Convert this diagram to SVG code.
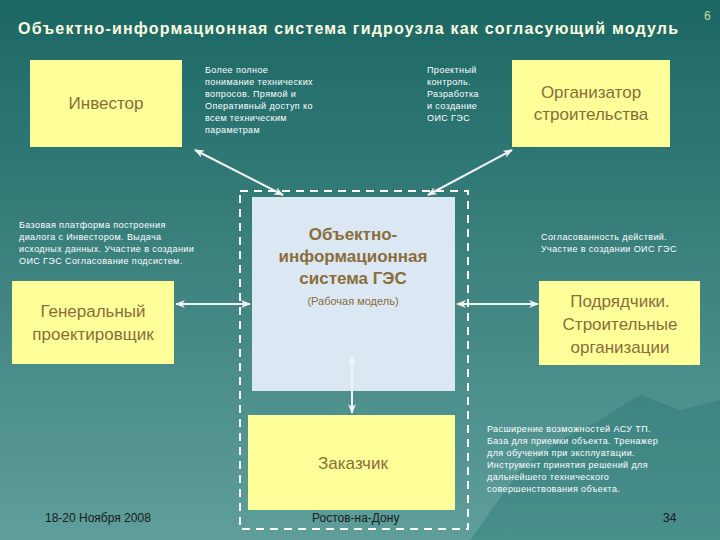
<svg xmlns="http://www.w3.org/2000/svg" width="720" height="540" viewBox="0 0 720 540">
<defs>
<linearGradient id="bg" x1="0" y1="0" x2="0" y2="1"><stop offset="0" stop-color="#1b6764"/><stop offset="1" stop-color="#5f9e9b"/></linearGradient>
<marker id="ah" markerWidth="10" markerHeight="8" refX="9" refY="4" orient="auto-start-reverse" markerUnits="userSpaceOnUse"><path d="M0,0 L10,4 L0,8 L3,4 Z" fill="#f2f2f2"/></marker>
</defs>
<style>
.t{font-family:"Liberation Sans",Arial,sans-serif;fill:#fff}
.s{font-size:9px;letter-spacing:0.4px}
.n{font-family:"Liberation Sans",Arial,sans-serif;fill:#8a6d3b;font-size:17px;text-anchor:middle}
.sm{font-size:11px}
.y{fill:#ffff99}
.c{stroke:#f2f2f2;stroke-width:2;fill:none;marker-start:url(#ah);marker-end:url(#ah)}
</style>
<rect width="720" height="540" fill="url(#bg)"/>
<path d="M470,540 L520,470 L560,440 L600,420 L640,395 L680,410 L720,400 L720,540 Z" fill="#2c7a78" opacity="0.45"/>
<text class="t" x="18" y="34" font-size="16" font-weight="bold" textLength="660" style="fill:#fbfbe0">Объектно-информационная система гидроузла как согласующий модуль</text>
<text class="t" x="704" y="20" font-size="12" style="fill:#cfd9a0">6</text>
<rect x="240" y="191" width="228" height="338" fill="none" stroke="#fff" stroke-width="2" stroke-dasharray="8,6"/>
<g id="investor"><rect class="y" x="30" y="60" width="152" height="87"/><text class="n" x="106" y="109">Инвестор</text></g>
<g id="organizer"><rect class="y" x="512" y="60" width="158" height="87"/><text class="n" x="591" y="98">Организатор</text><text class="n" x="591" y="120">строительства</text></g>
<g id="center"><rect x="252" y="197" width="203" height="194" fill="#dbe8f4"/>
<text class="n" x="353" y="240" font-weight="bold">Объектно-</text><text class="n" x="353" y="262" font-weight="bold">информационная</text><text class="n" x="353" y="284" font-weight="bold">система ГЭС</text>
<text class="n sm" x="353" y="305">(Рабочая модель)</text></g>
<g id="genproj"><rect class="y" x="12" y="281" width="162" height="83"/><text class="n" x="93" y="317">Генеральный</text><text class="n" x="93" y="340">проектировщик</text></g>
<g id="contractors"><rect class="y" x="539" y="281" width="161" height="84"/><text class="n" x="620" y="307">Подрядчики.</text><text class="n" x="620" y="330">Строительные</text><text class="n" x="620" y="353">организации</text></g>
<g id="customer"><rect class="y" x="248" y="415" width="207" height="95"/><text class="n" x="353" y="469">Заказчик</text></g>
<g id="connectors">
<line class="c" x1="195" y1="150" x2="283" y2="195"/>
<line class="c" x1="512" y1="150" x2="428" y2="195"/>
<line class="c" x1="176" y1="304" x2="250" y2="304"/>
<line class="c" x1="457" y1="304" x2="538" y2="304"/>
<line class="c" x1="352" y1="356" x2="352" y2="413"/>
</g>
<g class="t s">
<text x="205" y="73">Более полное</text><text x="205" y="85">понимание технических</text><text x="205" y="97">вопросов. Прямой и</text><text x="205" y="109">Оперативный доступ ко</text><text x="205" y="121">всем техническим</text><text x="205" y="133">параметрам</text>
<text x="427" y="73">Проектный</text><text x="427" y="85">контроль.</text><text x="427" y="97">Разработка</text><text x="427" y="109">и создание</text><text x="427" y="121">ОИС ГЭС</text>
<text x="19" y="228">Базовая платформа построения</text><text x="19" y="240">диалога с Инвестором. Выдача</text><text x="19" y="252">исходных данных. Участие  в создании</text><text x="19" y="264">ОИС ГЭС Согласование подсистем.</text>
<text x="541" y="240">Согласованность действий.</text><text x="541" y="252">Участие  в создании ОИС ГЭС</text>
<text x="487" y="432">Расширение возможностей АСУ ТП.</text><text x="487" y="444">База для приемки объекта. Тренажер</text><text x="487" y="456">для обучения при эксплуатации.</text><text x="487" y="468">Инструмент принятия решений для</text><text x="487" y="480">дальнейшего технического</text><text x="487" y="492">совершенствования объекта.</text>
</g>
<g class="t" font-size="12"><text x="45" y="522" style="fill:#1a1a1a">18-20 Ноября 2008</text><text x="312" y="522" style="fill:#1a1a1a">Ростов-на-Дону</text><text x="663" y="522" style="fill:#1a1a1a">34</text></g>
</svg>
